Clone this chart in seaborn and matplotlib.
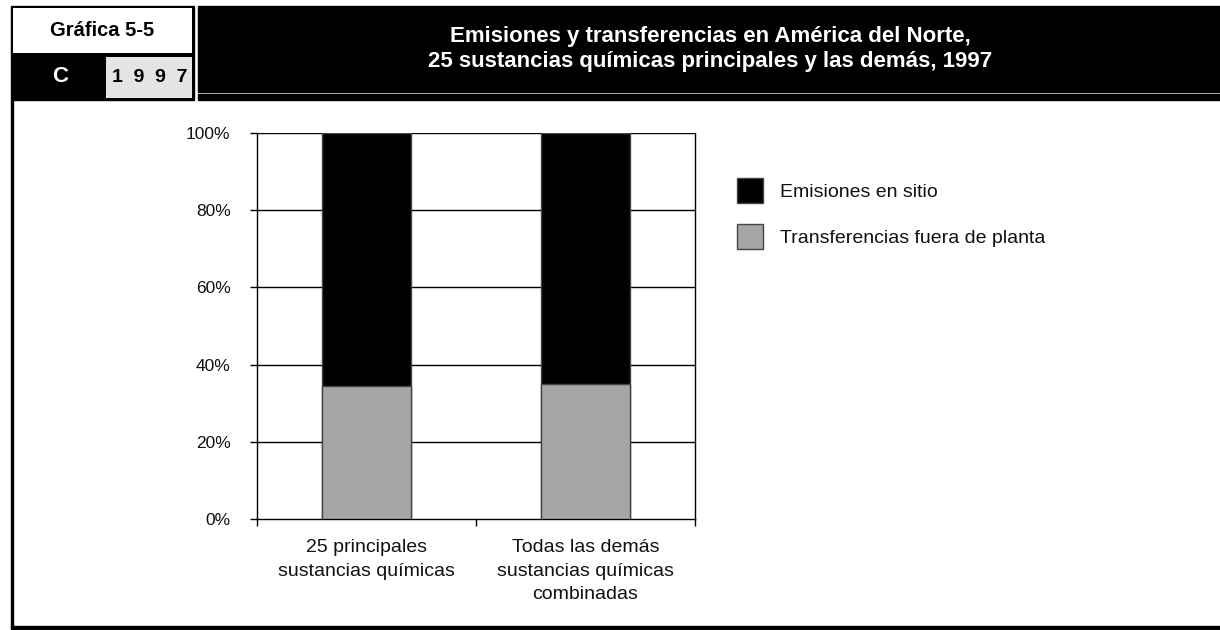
import numpy as np
import pandas as pd
import matplotlib.pyplot as plt
import seaborn as sns
from matplotlib.patches import Rectangle, Patch

categories = ["25 principales\nsustancias químicas",
              "Todas las demás\nsustancias químicas\ncombinadas"]
transferencias = [34.5, 34.9]
emisiones = [65.5, 65.1]
series_names = ["Emisiones en sitio", "Transferencias fuera de planta"]
yticks = [0, 20, 40, 60, 80, 100]

sns.set_theme(style="white")
plt.rcParams['font.family'] = ['Liberation Sans', 'DejaVu Sans']

fig = plt.figure(figsize=(12.2, 6.3), dpi=100)

# header / frame overlay in pixel coords
bg = fig.add_axes([0, 0, 1, 1], zorder=0)
bg.set_xlim(0, 1220)
bg.set_ylim(630, 0)
bg.axis("off")
bg.add_patch(Rectangle((198, 6), 1022, 86, color="black"))
bg.add_patch(Rectangle((198, 94), 1022, 6, color="black"))
bg.add_patch(Rectangle((11, 6), 183, 94, color="black"))
bg.add_patch(Rectangle((13, 8), 179, 45, facecolor="white", edgecolor="none"))
bg.add_patch(Rectangle((106, 57), 86, 41, facecolor="#e4e4e4", edgecolor="none"))
bg.add_patch(Rectangle((11, 100), 1.5, 527, color="black"))
bg.add_patch(Rectangle((11, 626), 1209, 4, color="black"))
bg.text(102, 30, "Gráfica 5-5", ha="center", va="center", fontsize=14.5,
        fontweight="bold", color="black")
bg.text(60, 77, "C", ha="center", va="center", fontsize=16, fontweight="bold",
        color="white")
bg.text(150, 78, "1  9  9  7", ha="center", va="center", fontsize=14,
        fontweight="bold", color="black")
bg.text(710, 49, "Emisiones y transferencias en América del Norte,\n"
        "25 sustancias químicas principales y las demás, 1997",
        ha="center", va="center", fontsize=16, fontweight="bold",
        color="white", linespacing=1.25)

ax = fig.add_axes([257 / 1220, 1 - 519 / 630, 438 / 1220, 386 / 630], zorder=2)
ax.patch.set_alpha(0)
df = pd.DataFrame({"cat": categories,
                   "total": [e + t for e, t in zip(emisiones, transferencias)],
                   "trans": transferencias})
sns.barplot(data=df, x="cat", y="total", color="black", width=0.405,
            edgecolor="#444444", linewidth=1, saturation=1, ax=ax, zorder=3)
sns.barplot(data=df, x="cat", y="trans", color="#a6a6a6", width=0.405,
            edgecolor="#444444", linewidth=1, saturation=1, ax=ax, zorder=3)

ax.set_ylim(0, 100)
ax.set_xlim(-0.5, 1.5)
ax.set_yticks(yticks)
ax.set_yticklabels([f"{v}%" for v in yticks], fontsize=12.5)
ax.set_xticks([-0.5, 0.5, 1.5])
ax.set_xticklabels([])
for i, c in enumerate(categories):
    ax.text(i, -5.2, c, ha="center", va="top", fontsize=14, linespacing=1.5,
            color="#111111")
ax.set_xlabel("")
ax.set_ylabel("")
for v in yticks[1:]:
    ax.axhline(v, color="black", lw=1, zorder=1)
for s in ["left", "right", "bottom"]:
    ax.spines[s].set_visible(True)
    ax.spines[s].set_color("black")
    ax.spines[s].set_linewidth(1)
ax.spines["top"].set_visible(False)
ax.tick_params(axis="both", which="both", direction="out", length=5, width=1,
               color="black", left=True, bottom=True)
ax.tick_params(axis="y", labelcolor="#111111", pad=14)

handles = [Patch(facecolor="black", edgecolor="#444444"),
           Patch(facecolor="#a6a6a6", edgecolor="#444444")]
fig.legend(handles, series_names, loc="upper left",
           bbox_to_anchor=(737 / 1220, 1 - 178 / 630), frameon=False,
           fontsize=14, handlelength=1.35, handleheight=1.6, borderpad=0,
           borderaxespad=0, labelspacing=1.1, handletextpad=0.85,
           labelcolor="#111111")

fig.savefig("out.png", dpi=100)
